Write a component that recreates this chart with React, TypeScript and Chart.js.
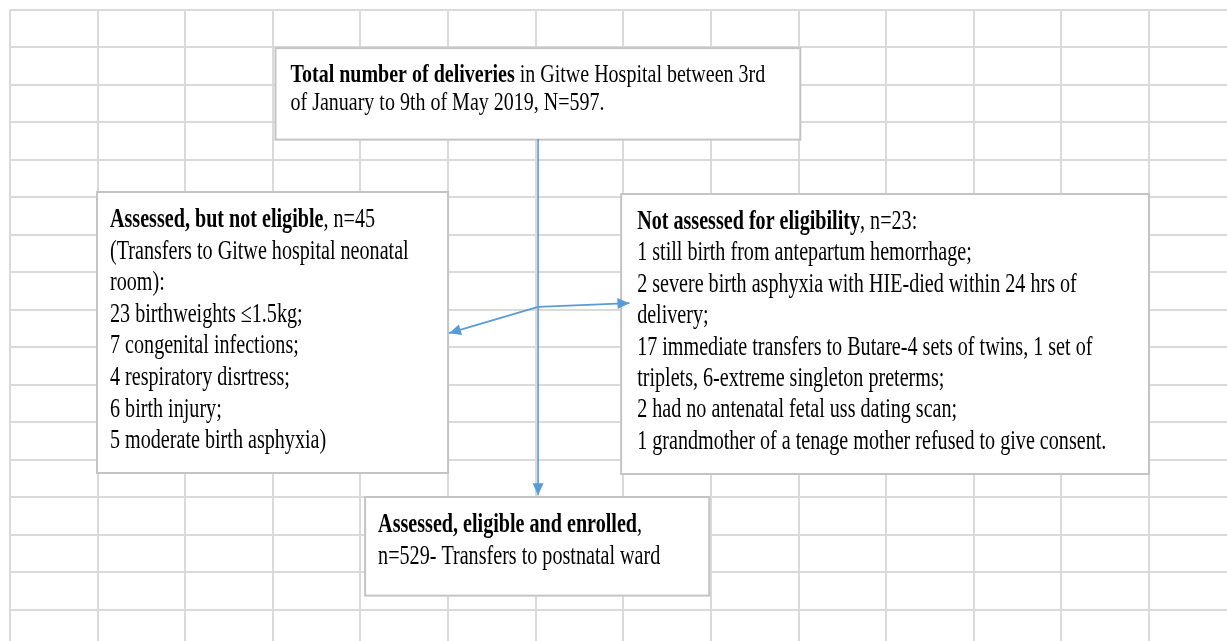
import React, { useEffect, useRef } from "react";
import { Chart, registerables } from "chart.js";

Chart.register(...registerables);

// ---- Data -----------------------------------------------------------------
const counts = [597, 45, 23, 529];

const boxHeads = [
  "Total number of deliveries",
  "Assessed, but not eligible",
  "Not assessed for eligibility",
  "Assessed, eligible and enrolled",
];

const boxHeadTails = [
  " in Gitwe Hospital between 3rd",
  `, n=${counts[1]}`,
  `, n=${counts[2]}:`,
  ",",
];

const totalLines = [`of January to 9th of May 2019, N=${counts[0]}.`];

const notEligibleLines = [
  "(Transfers to Gitwe hospital neonatal",
  "room):",
  "23 birthweights \u22641.5kg;",
  "7 congenital infections;",
  "4 respiratory disrtress;",
  "6 birth injury;",
  "5 moderate birth asphyxia)",
];

const notAssessedLines = [
  "1 still birth from antepartum hemorrhage;",
  "2 severe birth asphyxia with HIE-died within 24 hrs of",
  "delivery;",
  "17 immediate transfers to Butare-4 sets of twins, 1 set of",
  "triplets, 6-extreme singleton preterms;",
  "2 had no antenatal fetal uss dating scan;",
  "1 grandmother of a tenage mother refused to give consent.",
];

const enrolledLines = [`n=${counts[3]}- Transfers to postnatal ward`];

const boxBodies = [totalLines, notEligibleLines, notAssessedLines, enrolledLines];

// spreadsheet grid (cell indices)
const colTicks = [0, 1, 2, 3, 4, 5, 6, 7, 8, 9, 10, 11, 12, 13];
const rowTicks = [0, 1, 2, 3, 4, 5, 6, 7, 8, 9, 10, 11, 12, 13, 14, 15, 16];

// arrows (in cell units)
const arrowDown = [{ x: 6.027, y: 3.45 }, { x: 6.027, y: 12.95 }];
const arrowLeft = [{ x: 6.027, y: 7.93 }, { x: 5.01, y: 8.63 }];
const arrowRight = [{ x: 6.027, y: 7.93 }, { x: 7.07, y: 7.83 }];

// ---- Layout / style ---------------------------------------------------------
const boxLayout = [
  { x0: 3.03, x1: 9.02, y0: 1.03, y1: 3.47, font: 25, sx: 0.8, padX: 15, firstBase: 34, lh: 28 },
  { x0: 0.993, x1: 5.0, y0: 4.867, y1: 12.36, font: 27, sx: 0.745, padX: 13, firstBase: 35, lh: 31.6 },
  { x0: 6.975, x1: 13.0, y0: 4.92, y1: 12.387, font: 27, sx: 0.745, padX: 16, firstBase: 35, lh: 31.4 },
  { x0: 4.053, x1: 7.98, y0: 13.0, y1: 15.63, font: 27, sx: 0.745, padX: 13, firstBase: 35, lh: 32 },
];

const FONT_FAMILY = '"Liberation Serif", "Times New Roman", serif';
const ARROW_COLOR = "#5b9bd5";

const flowPlugin = {
  id: "flowBoxes",
  beforeDatasetsDraw(chart: any) {
    const { ctx, scales } = chart;
    const xs = scales.x;
    const ys = scales.y;
    boxLayout.forEach((b, i) => {
      const l = xs.getPixelForValue(b.x0);
      const r = xs.getPixelForValue(b.x1);
      const t = ys.getPixelForValue(b.y0);
      const bt = ys.getPixelForValue(b.y1);
      ctx.save();
      ctx.fillStyle = "#ffffff";
      ctx.fillRect(l, t, r - l, bt - t);
      ctx.strokeStyle = "#c4c4c4";
      ctx.lineWidth = 2;
      ctx.strokeRect(l, t, r - l, bt - t);
      const lines: { t: string; b: boolean }[][] = [
        [
          { t: boxHeads[i], b: true },
          { t: boxHeadTails[i], b: false },
        ],
        ...boxBodies[i].map((s) => [{ t: s, b: false }]),
      ];
      ctx.fillStyle = "#000000";
      ctx.textBaseline = "alphabetic";
      ctx.textAlign = "left";
      lines.forEach((segs, li) => {
        ctx.save();
        ctx.translate(l + b.padX, t + b.firstBase + li * b.lh);
        ctx.scale(b.sx, 1);
        let cx = 0;
        segs.forEach((s) => {
          ctx.font = `${s.b ? "bold " : ""}${b.font}px ${FONT_FAMILY}`;
          ctx.fillText(s.t, cx, 0);
          cx += ctx.measureText(s.t).width;
        });
        ctx.restore();
      });
      ctx.restore();
    });
  },
  afterDatasetsDraw(chart: any) {
    const { ctx } = chart;
    chart.data.datasets.forEach((_ds: any, di: number) => {
      const pts = chart.getDatasetMeta(di).data;
      if (pts.length < 2) return;
      const a = pts[pts.length - 2];
      const b = pts[pts.length - 1];
      const ang = Math.atan2(b.y - a.y, b.x - a.x);
      const len = 12;
      const half = 5.5;
      ctx.save();
      ctx.fillStyle = ARROW_COLOR;
      ctx.beginPath();
      ctx.moveTo(b.x, b.y);
      ctx.lineTo(
        b.x - len * Math.cos(ang) + half * Math.sin(ang),
        b.y - len * Math.sin(ang) - half * Math.cos(ang)
      );
      ctx.lineTo(
        b.x - len * Math.cos(ang) - half * Math.sin(ang),
        b.y - len * Math.sin(ang) + half * Math.cos(ang)
      );
      ctx.closePath();
      ctx.fill();
      ctx.restore();
    });
  },
};

const gridOpts = { color: "#dadada", lineWidth: 2, drawTicks: false };

export default function App() {
  const ref = useRef<HTMLCanvasElement>(null);
  useEffect(() => {
    if (!ref.current) return;
    const mk = (data: { x: number; y: number }[]) => ({
      type: "scatter" as const,
      data,
      showLine: true,
      borderColor: ARROW_COLOR,
      backgroundColor: ARROW_COLOR,
      borderWidth: 1.6,
      pointRadius: 0,
      clip: false as any,
    });
    const chart = new Chart(ref.current, {
      type: "scatter",
      data: { datasets: [mk(arrowDown), mk(arrowLeft), mk(arrowRight)] },
      options: {
        responsive: false,
        animation: false,
        events: [],
        layout: { padding: { left: 10, top: 9.5, right: 0, bottom: 0 } },
        plugins: {
          legend: { display: false },
          tooltip: { enabled: false },
          title: { display: false },
        },
        scales: {
          x: {
            type: "linear",
            min: 0,
            max: 13.89,
            afterBuildTicks: (s: any) => {
              s.ticks = colTicks.map((v) => ({ value: v }));
            },
            ticks: { display: false },
            grid: gridOpts,
            border: { display: false },
          },
          y: {
            type: "linear",
            reverse: true,
            min: 0,
            max: 16.84,
            afterBuildTicks: (s: any) => {
              s.ticks = rowTicks.map((v) => ({ value: v }));
            },
            ticks: { display: false },
            grid: gridOpts,
            border: { display: false },
          },
        },
      },
      plugins: [flowPlugin],
    } as any);
    return () => chart.destroy();
  }, []);
  return (
    <div style={{ position: "fixed", left: 0, top: 0, width: 1227, height: 641, background: "#ffffff" }}>
      <canvas ref={ref} width={1227} height={641} style={{ display: "block", width: 1227, height: 641 }} />
    </div>
  );
}
